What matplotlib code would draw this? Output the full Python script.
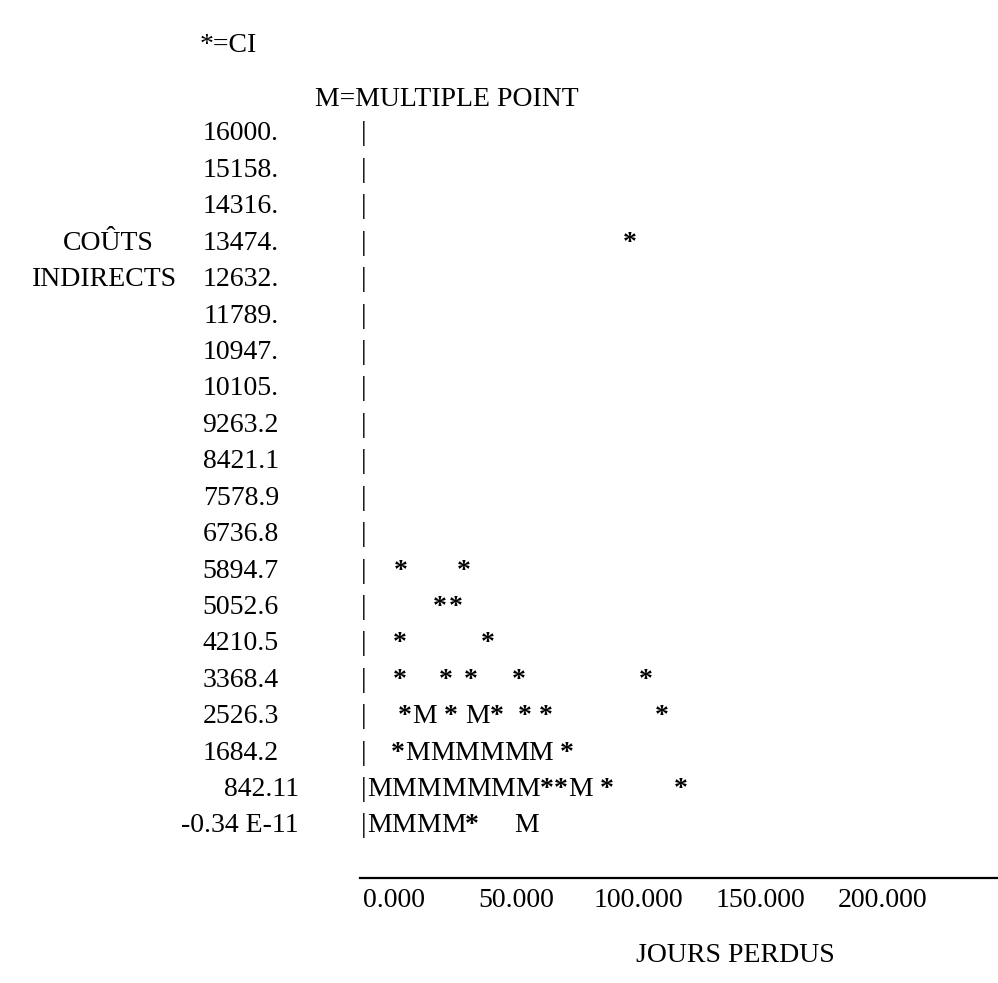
import matplotlib
matplotlib.use('Agg')
import matplotlib.pyplot as plt
from matplotlib.transforms import blended_transform_factory, ScaledTranslation

plt.rcParams['font.family'] = ['Liberation Serif', 'DejaVu Serif']

# printed vertical scale (COUTS INDIRECTS), one entry per printer row
row_values = [16000, 15158, 14316, 13474, 12632, 11789, 10947, 10105, 9263.2, 8421.1,
              7578.9, 6736.8, 5894.7, 5052.6, 4210.5, 3368.4, 2526.3, 1684.2, 842.11, -0.34e-11]
row_labels = ['16000.', '15158.', '14316.', '13474.', '12632.', '11789.', '10947.', '10105.',
              '9263.2', '8421.1', '7578.9', '6736.8', '5894.7', '5052.6', '4210.5', '3368.4',
              '2526.3', '1684.2', '842.11', '-0.34 E-11']

x_ticks = [0, 50, 100, 150, 200]
x_tick_labels = ['0.000', '50.000', '100.000', '150.000', '200.000']

# single points (*=CI)
ci_x = [96.7,
        2.9, 28.7,
        18.9, 25.4,
        2.5, 38.5,
        2.5, 21.3, 31.6, 51.2, 103.3,
        4.5, 23.4, 42.2, 53.7, 62.3, 109.8,
        1.6, 70.9,
        62.7, 68.4, 87.3, 117.6,
        32.0]
ci_y = [13474,
        5894.7, 5894.7,
        5052.6, 5052.6,
        4210.5, 4210.5,
        3368.4, 3368.4, 3368.4, 3368.4, 3368.4,
        2526.3, 2526.3, 2526.3, 2526.3, 2526.3, 2526.3,
        1684.2, 1684.2,
        842.11, 842.11, 842.11, 842.11,
        0.0]

# multiple points (M)
mp_x = [12.5, 34.2,
        9.6, 19.7, 29.8, 40.0, 50.1, 60.2,
        -6.0, 4.1, 14.3, 24.4, 34.5, 44.6, 54.7, 76.4,
        -6.0, 4.1, 14.3, 24.4, 54.5]
mp_y = [2526.3, 2526.3,
        1684.2, 1684.2, 1684.2, 1684.2, 1684.2, 1684.2,
        842.11, 842.11, 842.11, 842.11, 842.11, 842.11, 842.11, 842.11,
        0.0, 0.0, 0.0, 0.0, 0.0]

W, H = 998, 983
fs = 20

fig = plt.figure(figsize=(W / 100, H / 100), dpi=100)
ax = fig.add_axes([360 / W, 1 - 878 / H, (998 - 360) / W, (878 - 110) / H])
ax.set_xlim(-13.93, 247.5)
ax.set_ylim(-1272, 16485)

for s in ['top', 'right', 'left']:
    ax.spines[s].set_visible(False)
ax.spines['bottom'].set_linewidth(1.6)

ax.set_xticks(x_ticks, x_tick_labels)
ax.tick_params(axis='x', length=0, pad=7, labelsize=fs)
ax.set_yticks(row_values, row_labels)
ax.tick_params(axis='y', length=0, pad=44, labelsize=fs)

# the upper labels sit further from the axis than the last two rows
shift = ScaledTranslation(-0.2, 0, fig.dpi_scale_trans)
for lab in ax.get_yticklabels()[:-2]:
    lab.set_transform(lab.get_transform() + shift)

# printer-style vertical axis
for v in row_values:
    ax.text(-12.3, v, '|', ha='center', va='center_baseline', fontsize=fs, clip_on=False)

for x, y in zip(ci_x, ci_y):
    ax.text(x, y, '*', ha='center', va='center_baseline', fontsize=fs, fontweight='bold')
for x, y in zip(mp_x, mp_y):
    ax.text(x, y, 'M', ha='center', va='center_baseline', fontsize=fs)

# axis titles
tr = blended_transform_factory(fig.transFigure, ax.transData)
ax.text(108 / W, 13474, 'COÛTS', transform=tr, ha='center', va='center_baseline', fontsize=fs)
ax.text(105 / W, 12632, 'INDIRECTS', transform=tr, ha='center', va='center_baseline', fontsize=fs)

fig.text(200 / W, 1 - 45 / H, '*=CI', ha='left', va='center', fontsize=fs)
fig.text(315 / W, 1 - 100 / H, 'M=MULTIPLE POINT', ha='left', va='center', fontsize=fs)
fig.text(735 / W, 1 - 955 / H, 'JOURS PERDUS', ha='center', va='center', fontsize=fs)

fig.savefig('out.png', dpi=100)
